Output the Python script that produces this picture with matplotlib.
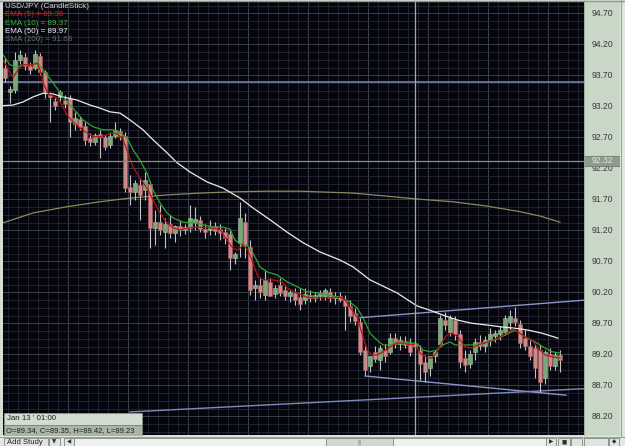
import matplotlib
matplotlib.use("Agg")
import matplotlib.pyplot as plt
from matplotlib.patches import Rectangle
import numpy as np

# ---------------- data ----------------
opens = [93.82, 93.43, 93.46, 93.95, 93.99, 93.85, 93.82, 94.01, 93.75, 93.38,
         93.29, 93.35, 93.30, 93.33, 92.91, 92.99, 92.88, 92.69, 92.62, 92.75,
         92.71, 92.58, 92.72, 92.80, 92.72, 91.90, 91.82, 91.93, 91.85, 91.95,
         91.24, 91.33, 91.17, 91.30, 91.16, 91.27, 91.20, 91.24, 91.34, 91.37,
         91.22, 91.20, 91.27, 91.22, 91.17, 91.14, 90.75, 90.99, 91.33, 90.93,
         90.27, 90.32, 90.16, 90.37, 90.17, 90.32, 90.24, 90.14, 90.19, 90.12,
         90.08, 90.16, 90.11, 90.14, 90.14, 90.21, 90.11, 90.14, 90.08, 89.98,
         89.87, 89.72, 89.27, 89.01, 89.24, 89.11, 89.27, 89.24, 89.46, 89.37,
         89.40, 89.38, 89.34, 89.27, 89.07, 88.98, 89.17, 89.37, 89.75, 89.56,
         89.75, 89.53, 89.14, 89.04, 89.24, 89.40, 89.33, 89.43, 89.50, 89.53,
         89.56, 89.72, 89.78, 89.69, 89.46, 89.33, 89.30, 89.27, 88.82, 89.21,
         89.01, 89.19]
highs = [93.98, 93.53, 94.08, 94.11, 94.06, 93.91, 94.11, 94.06, 93.79, 93.43,
         93.33, 93.46, 93.38, 93.38, 93.11, 93.04, 92.95, 92.77, 92.77, 92.82,
         92.74, 92.79, 92.95, 92.85, 92.79, 92.09, 92.01, 92.04, 92.14, 92.00,
         91.53, 91.61, 91.40, 91.45, 91.29, 91.37, 91.30, 91.61, 91.58, 91.43,
         91.30, 91.37, 91.33, 91.30, 91.24, 91.20, 90.85, 91.66, 91.48, 91.04,
         90.40, 90.43, 90.56, 90.43, 90.32, 90.43, 90.32, 90.24, 90.27, 90.27,
         90.27, 90.24, 90.21, 90.24, 90.27, 90.27, 90.21, 90.21, 90.16, 90.08,
         89.95, 89.79, 89.35, 89.17, 89.33, 89.35, 89.37, 89.54, 89.54, 89.49,
         89.49, 89.46, 89.42, 89.35, 89.19, 89.11, 89.27, 89.83, 89.88, 89.83,
         89.82, 89.59, 89.27, 89.27, 89.46, 89.51, 89.49, 89.62, 89.59, 89.66,
         89.83, 89.91, 89.96, 89.75, 89.59, 89.43, 89.37, 89.35, 89.27, 89.30,
         89.24, 89.27]
lows = [93.59, 93.25, 93.41, 93.88, 93.79, 93.72, 93.79, 93.71, 93.33, 92.95,
        93.14, 93.29, 93.17, 92.71, 92.82, 92.82, 92.58, 92.56, 92.58, 92.37,
        92.50, 92.53, 92.69, 92.66, 91.82, 91.61, 91.69, 91.37, 91.69, 90.91,
        90.96, 91.12, 90.91, 91.08, 91.01, 91.11, 91.14, 91.17, 91.20, 91.17,
        91.08, 91.12, 91.12, 91.04, 90.98, 90.56, 90.66, 90.77, 90.75, 90.16,
        90.08, 90.11, 90.08, 90.14, 90.11, 90.14, 90.08, 90.04, 90.00, 89.91,
        90.01, 90.04, 90.04, 90.08, 90.08, 90.04, 90.01, 90.04, 89.59, 89.72,
        89.67, 89.19, 88.87, 88.91, 89.08, 88.95, 89.08, 89.21, 89.30, 89.27,
        89.30, 89.17, 89.23, 88.79, 88.75, 88.85, 89.08, 89.33, 89.59, 89.50,
        89.43, 88.98, 88.91, 88.98, 89.11, 89.27, 89.24, 89.33, 89.40, 89.43,
        89.51, 89.59, 89.66, 89.30, 89.27, 89.11, 88.82, 88.59, 88.72, 88.95,
        88.95, 88.91]
closes = [93.66, 93.48, 93.95, 94.03, 93.85, 93.79, 94.04, 93.75, 93.43, 93.35,
          93.21, 93.43, 93.24, 92.95, 93.01, 92.87, 92.66, 92.62, 92.74, 92.71,
          92.54, 92.72, 92.82, 92.72, 91.88, 91.82, 91.96, 91.77, 92.01, 91.24,
          91.33, 91.20, 91.30, 91.16, 91.27, 91.20, 91.25, 91.40, 91.38, 91.22,
          91.17, 91.27, 91.19, 91.16, 91.08, 90.75, 90.82, 91.40, 90.96, 90.24,
          90.32, 90.21, 90.40, 90.14, 90.27, 90.19, 90.14, 90.21, 90.08, 90.01,
          90.17, 90.11, 90.16, 90.19, 90.24, 90.11, 90.14, 90.08, 89.98, 89.82,
          89.74, 89.24, 88.95, 89.17, 89.12, 89.30, 89.17, 89.46, 89.37, 89.43,
          89.35, 89.24, 89.35, 89.04, 88.91, 89.17, 89.24, 89.78, 89.67, 89.78,
          89.53, 89.08, 89.03, 89.20, 89.40, 89.33, 89.43, 89.53, 89.54, 89.59,
          89.78, 89.82, 89.72, 89.38, 89.33, 89.17, 88.98, 88.75, 89.24, 89.01,
          89.19, 89.10]

# moving averages (bar position, price)
ema5_x = [-0.4, 1.6, 2.6, 3.6, 5.6, 6.4, 7.0, 7.6, 8.6, 10.4, 11.4, 12.4, 13.6, 15.0,
          16.4, 17.6, 19.0, 20.4, 21.6, 22.6, 23.6, 24.6, 25.6, 27.0, 28.4, 29.6, 31.0,
          32.4, 33.6, 35.0, 37.0, 38.4, 41.0, 43.0, 44.4, 45.6, 46.6, 47.6, 48.6, 49.6,
          50.6, 51.6, 53.6, 55.4, 56.4, 58.4, 60.4, 62.4, 64.4, 67.0, 68.0, 69.0, 70.4,
          71.4, 72.4, 73.4, 74.4, 75.6, 77.0, 78.4, 79.6, 81.0, 82.0, 83.0, 84.4, 85.4,
          86.4, 87.4, 88.4, 89.4, 90.6, 92.0, 93.4, 94.6, 96.6, 98.6, 100.4, 101.6,
          102.6, 104.0, 105.4, 106.6, 108.0, 109.4, 111.0]
ema5_y = [93.95, 93.66, 93.79, 93.87, 93.87, 93.90, 93.79, 93.58, 93.41, 93.33, 93.22,
          93.06, 92.95, 92.85, 92.77, 92.71, 92.71, 92.74, 92.77, 92.75, 92.66, 92.45,
          92.22, 92.04, 91.88, 91.69, 91.48, 91.32, 91.24, 91.21, 91.24, 91.25, 91.24,
          91.21, 91.04, 90.91, 90.88, 90.96, 90.88, 90.67, 90.45, 90.40, 90.40, 90.37,
          90.27, 90.19, 90.12, 90.11, 90.11, 90.12, 90.08, 89.96, 89.80, 89.54, 89.27,
          89.19, 89.19, 89.24, 89.32, 89.38, 89.38, 89.35, 89.36, 89.22, 89.14, 89.14,
          89.24, 89.40, 89.51, 89.54, 89.48, 89.32, 89.30, 89.35, 89.40, 89.46, 89.54,
          89.61, 89.56, 89.48, 89.43, 89.30, 89.19, 89.16, 89.14]
ema10_x = [-0.4, 1.0, 2.4, 3.6, 5.6, 6.6, 7.6, 9.6, 11.6, 13.6, 15.6, 17.6, 19.6, 21.6,
           23.0, 24.4, 25.6, 27.0, 28.4, 29.6, 31.0, 32.4, 33.6, 35.6, 37.6, 39.6, 41.6,
           43.6, 45.0, 46.0, 47.4, 48.4, 49.6, 51.0, 52.4, 54.4, 56.4, 58.4, 60.4, 62.4,
           64.4, 67.0, 69.0, 70.4, 71.6, 73.0, 74.4, 75.6, 77.0, 78.4, 80.4, 82.4, 83.6,
           85.0, 86.4, 87.6, 89.0, 90.0, 92.0, 94.0, 96.0, 98.0, 100.0, 102.0, 104.0,
           106.0, 108.0, 109.4, 111.0]
ema10_y = [94.03, 93.87, 93.83, 93.87, 93.87, 93.90, 93.79, 93.58, 93.35, 93.17, 92.98,
           92.87, 92.82, 92.82, 92.77, 92.69, 92.50, 92.33, 92.12, 91.85, 91.64, 91.48,
           91.40, 91.33, 91.32, 91.29, 91.25, 91.25, 91.22, 91.04, 90.96, 90.96, 90.83,
           90.61, 90.53, 90.48, 90.37, 90.29, 90.21, 90.19, 90.16, 90.12, 90.04, 89.95,
           89.79, 89.54, 89.43, 89.35, 89.35, 89.40, 89.40, 89.37, 89.27, 89.24, 89.27,
           89.35, 89.40, 89.35, 89.35, 89.35, 89.38, 89.43, 89.51, 89.59, 89.48, 89.40,
           89.30, 89.24, 89.22]
ema50_x = [-0.4, 1.6, 3.6, 5.6, 7.6, 9.6, 11.6, 14.4, 17.0, 19.0, 21.0, 23.0, 25.0, 27.6,
           29.6, 32.4, 34.4, 37.0, 40.4, 43.6, 47.0, 49.6, 53.0, 56.4, 59.6, 63.0, 67.0,
           69.6, 73.0, 78.4, 82.4, 85.0, 88.0, 90.6, 93.4, 96.6, 99.4, 102.0, 104.6,
           107.4, 110.6]
ema50_y = [93.21, 93.22, 93.27, 93.35, 93.41, 93.40, 93.35, 93.30, 93.22, 93.17, 93.11,
           93.09, 92.98, 92.82, 92.66, 92.45, 92.29, 92.14, 91.98, 91.88, 91.72, 91.56,
           91.37, 91.17, 91.00, 90.85, 90.72, 90.61, 90.40, 90.19, 89.98, 89.91, 89.82,
           89.75, 89.70, 89.67, 89.64, 89.62, 89.59, 89.54, 89.46]
sma200_x = [-0.4, 5.6, 12.4, 19.0, 25.0, 32.4, 39.0, 45.6, 52.4, 59.0, 69.6, 76.4, 83.0,
            89.6, 96.4, 103.0, 107.0, 111.0]
sma200_y = [91.32, 91.48, 91.58, 91.66, 91.72, 91.77, 91.80, 91.82, 91.83, 91.83, 91.80,
            91.75, 91.70, 91.66, 91.59, 91.50, 91.43, 91.33]

# drawn study lines
hline_price = 93.59
upper_x, upper_y = [71.0, 117.0], [89.79, 90.08]
lower_x, lower_y = [72.0, 112.2], [88.85, 88.54]
long_x, long_y = [25.0, 117.0], [88.27, 88.65]
cross_bar, cross_price = 82, 92.32

ytick_vals = [94.70, 94.20, 93.70, 93.20, 92.70, 92.20, 91.70, 91.20, 90.70,
              90.20, 89.70, 89.20, 88.70, 88.20]
legend_lines = [("USD/JPY (CandleStick)", "#d8d8d8"),
                ("EMA (5) = 89.36", "#d42020"),
                ("EMA (10) = 89.37", "#3cb43c"),
                ("EMA (50) = 89.97", "#f0f0f0"),
                ("SMA (200) = 91.68", "#6e6e5a")]
info_date = "Jan 13 ' 01:00"
info_ohlc = "O=89.34, C=89.35, H=89.42, L=89.23"

# ---------------- figure ----------------
W, H = 625, 446
fig = plt.figure(figsize=(W / 100, H / 100), dpi=100)
fig.patch.set_facecolor("#d6dfd6")
FONT = "Liberation Sans"

def fx(px):
    return px / W

def fy(py):
    return 1 - py / H

# main chart
ax = fig.add_axes([fx(3), fy(435), fx(584) - fx(3), fy(1) - fy(435)])
ax.set_facecolor("#05050c")
ax.set_xlim(-0.4, 115.8)
ax.set_ylim(87.898, 94.898)
for s in ax.spines.values():
    s.set_visible(False)
ax.set_xticks([])
ax.set_yticks([])

# grid
for gx in np.arange(0.6, 116, 2):
    ax.axvline(gx, color="#23273a", lw=0.6, zorder=0)
for gx in np.arange(12.6, 116, 12):
    ax.axvline(gx, color="#3a3f52", lw=0.7, zorder=0)
for gy in np.arange(87.95, 94.9, 0.125):
    ax.axhline(gy, color="#23273a", lw=0.6, zorder=0)
for gy in ytick_vals:
    ax.axhline(gy, color="#363b50", lw=0.7, zorder=0)

# long-period averages and study lines
ax.plot(sma200_x, sma200_y, color="#8a8a62", lw=0.9, zorder=2)
ax.axhline(hline_price, color="#7f8bbd", lw=1.1, zorder=2)
ax.plot(upper_x, upper_y, color="#8a94c6", lw=1.0, zorder=2)
ax.plot(lower_x, lower_y, color="#8a94c6", lw=1.0, zorder=2)
ax.plot(long_x, long_y, color="#7f8bbd", lw=1.0, zorder=2)

# candles
xs = np.arange(len(closes))
o = np.array(opens); c = np.array(closes)
hi = np.array(highs); lo = np.array(lows)
ax.vlines(xs, lo, hi, color="#c4c4c4", lw=0.8, zorder=3)
bull = c >= o
bottoms = np.minimum(o, c)
heights = np.maximum(np.abs(c - o), 0.02)
ax.bar(xs[bull], heights[bull], bottom=bottoms[bull], width=0.62,
       color="#7aa67a", edgecolor="#9cc49c", lw=0.4, zorder=4)
ax.bar(xs[~bull], heights[~bull], bottom=bottoms[~bull], width=0.62,
       color="#c88a8a", edgecolor="#b25a5a", lw=0.4, zorder=4)

ax.plot(ema50_x, ema50_y, color="#ececec", lw=0.9, zorder=5)
ax.plot(ema10_x, ema10_y, color="#2fa52f", lw=0.9, zorder=6)
ax.plot(ema5_x, ema5_y, color="#b81414", lw=0.9, zorder=7)

# crosshair
ax.axvline(cross_bar, color="#a8a8a8", lw=0.9, zorder=8)
ax.axhline(cross_price, color="#8c8c8c", lw=0.9, zorder=8)

# right price panel
rp = fig.add_axes([fx(584), fy(435), fx(620) - fx(584), fy(1) - fy(435)])
rp.set_facecolor("#c9d7c7")
rp.set_xlim(0, 1)
rp.set_ylim(87.898, 94.898)
for s in rp.spines.values():
    s.set_visible(False)
rp.set_xticks([]); rp.set_yticks([])
for v in ytick_vals:
    rp.text(0.52, v, f"{v:.2f}", ha="center", va="center", fontsize=6.2,
            family=FONT, color="#3a3a3a")
rp.add_patch(Rectangle((0, cross_price - 0.085), 1, 0.17, facecolor="#8d9c8b",
                       edgecolor="#6f7d6e", lw=0.6, zorder=3))
rp.text(0.52, cross_price, f"{cross_price:.2f}", ha="center", va="center",
        fontsize=6.2, family=FONT, color="#dfe6dd", zorder=4)

# overlay in pixel coordinates for chrome and text
ov = fig.add_axes([0, 0, 1, 1], zorder=10)
ov.set_xlim(0, W); ov.set_ylim(H, 0)
ov.axis("off")
ov.patch.set_alpha(0)

# legend text
for k, (t, col) in enumerate(legend_lines):
    ov.text(5, 6.7 + 8.3 * k, t, color=col, fontsize=5.8, family=FONT,
            ha="left", va="center")

# info boxes
ov.add_patch(Rectangle((4, 413), 138, 12, facecolor="#d2dccf", edgecolor="#8a9488", lw=0.6))
ov.add_patch(Rectangle((4, 425), 138, 10.5, facecolor="#aab5a7", edgecolor="#7c8679", lw=0.6))
ov.text(7, 419, info_date, fontsize=5.7, family=FONT, color="#202020", va="center")
ov.text(6.5, 430.3, info_ohlc, fontsize=5.5, family=FONT, color="#202020", va="center")

# borders
ov.add_patch(Rectangle((0, 0), 3, 436, facecolor="#d3ddd3", edgecolor="none"))
ov.add_patch(Rectangle((620, 0), 5, 436, facecolor="#dfe7df", edgecolor="none"))
ov.plot([620.5, 620.5], [0, 436], color="#9aa49a", lw=0.8)
ov.plot([0, 625], [0.5, 0.5], color="#8f978f", lw=1.0)
ov.plot([583.5, 583.5], [0, 435], color="#9aa49a", lw=0.6)

# bottom toolbar
ov.add_patch(Rectangle((0, 436), 625, 10, facecolor="#e2e9e2", edgecolor="none"))
ov.plot([0, 625], [436.5, 436.5], color="#9aa49a", lw=0.8)
def btn(x0, x1, fc="#dfe6df"):
    ov.add_patch(Rectangle((x0, 438), x1 - x0, 9, facecolor=fc, edgecolor="#7f887f", lw=0.6))
btn(4, 48)
btn(49, 60)
btn(64, 74)
btn(74, 546, "#eef2ee")
btn(326, 393, "#cfd9cf")
btn(546, 556)
btn(558, 570)
btn(571, 582)
btn(584, 608)
btn(609, 619)
ov.text(7, 442.2, "Add Study", fontsize=5.5, family=FONT, color="#202020", va="center")
ov.text(54.5, 439.5, "\u25BC", fontsize=4, color="#303030", ha="center", va="top")
ov.text(69, 439.5, "\u25C0", fontsize=4, color="#303030", ha="center", va="top")
ov.text(551, 439.5, "\u25B6", fontsize=4, color="#303030", ha="center", va="top")
ov.text(359.5, 439.5, "||", fontsize=4, color="#505050", ha="center", va="top")
ov.text(564, 439.5, "\u25A0", fontsize=4, color="#303030", ha="center", va="top")
ov.text(614, 439.5, "\u25C6", fontsize=4, color="#303030", ha="center", va="top")

fig.savefig("out.png", dpi=100, facecolor=fig.get_facecolor())
